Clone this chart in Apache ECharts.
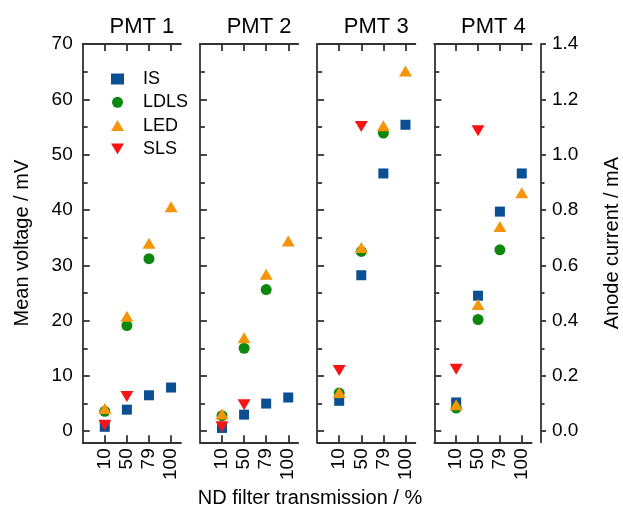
<!DOCTYPE html>
<html>
<head>
<meta charset="utf-8">
<script src="https://cdn.jsdelivr.net/npm/echarts@6/dist/echarts.min.js"></script>
<style>
  html, body { margin: 0; padding: 0; background: #fff; }
  #chart { width: 623px; height: 511px; }
</style>
</head>
<body>
<div id="chart"></div>
<script>
// categories (ND filter transmission, %) and panels
const categories = ['10', '50', '79', '100']
const panels = ['PMT 1', 'PMT 2', 'PMT 3', 'PMT 4']

// mean voltage in mV, one row per PMT, one value per category
const isValues = [
    [0.8, 3.9, 6.5, 7.9],
    [0.6, 3.0, 5.0, 6.1],
    [5.5, 28.2, 46.6, 55.4],
    [5.2, 24.5, 39.7, 46.6]
]
const ldlsValues = [
    [3.6, 19.1, 31.2, null],
    [2.8, 15.0, 25.6, null],
    [6.9, 32.5, 53.9, null],
    [4.2, 20.2, 32.8, null]
]
const ledValues = [
    [4.1, 20.8, 34.0, 40.6],
    [3.1, 16.9, 28.4, 34.4],
    [7.0, 33.2, 55.2, 65.1],
    [4.8, 22.9, 37.0, 43.1]
]
const slsValues = [
    [1.1, 6.3, null, null],
    [0.8, 4.8, null, null],
    [11.0, 55.1, null, null],
    [11.2, 54.3, null, null]
]

// tick values
const mvTicks = [0, 10, 20, 30, 40, 50, 60, 70]
const mvMinorTicks = [5, 15, 25, 35, 45, 55, 65]
const maTicks = [0, 0.2, 0.4, 0.6, 0.8, 1.0, 1.2, 1.4]
const maMinorTicks = [0.1, 0.3, 0.5, 0.7, 0.9, 1.1, 1.3]
const catTicks = [0, 1, 2, 3]

const FONT = 'Liberation Sans'
const TEXT_COLOR = '#000'
const AXIS_COLOR = '#333'
const DOWN_TRIANGLE = 'path://M0,0 L12,0 L6,10 Z'

const seriesDefs = [
    { name: 'IS', values: isValues, symbol: 'rect', size: 10, color: '#0b4f93' },
    { name: 'LDLS', values: ldlsValues, symbol: 'circle', size: 11, color: '#0e870e' },
    { name: 'LED', values: ledValues, symbol: 'triangle', size: [13, 11], color: '#f5960a' },
    { name: 'SLS', values: slsValues, symbol: DOWN_TRIANGLE, size: [13, 11], color: '#f81414' }
]

const GRID_LEFT = 82.7
const GRID_STEP = 117.2
const GRID_W = 98.3
const GRID_TOP = 44
const GRID_H = 398.3

const grid = []
const xAxis = []
const yAxis = []
const series = []
const title = []

const lineStyle = { color: AXIS_COLOR, width: 1.8 }

panels.forEach((p, i) => {
    const left = GRID_LEFT + i * GRID_STEP
    grid.push({ left: left, top: GRID_TOP, width: GRID_W, height: GRID_H })
    title.push({
        text: p,
        left: left + GRID_W / 2 + 5,
        top: 11,
        textAlign: 'center',
        textStyle: { fontFamily: FONT, fontSize: 22, fontWeight: 'normal', color: TEXT_COLOR }
    })
    // bottom axis with rotated labels
    xAxis.push({
        type: 'value', gridIndex: i, position: 'bottom', min: -1, max: 3.45,
        axisLine: { onZero: false, lineStyle: lineStyle },
        axisTick: { inside: true, length: 7, customValues: catTicks, lineStyle: lineStyle },
        axisLabel: {
            customValues: catTicks, formatter: v => categories[v], rotate: 90, margin: 6,
            fontFamily: FONT, fontSize: 19, color: TEXT_COLOR
        },
        splitLine: { show: false }
    })
    // top frame with ticks
    xAxis.push({
        type: 'value', gridIndex: i, position: 'top', min: -1, max: 3.45,
        axisLine: { onZero: false, lineStyle: lineStyle },
        axisTick: { inside: true, length: 7, customValues: catTicks, lineStyle: lineStyle },
        axisLabel: { show: false },
        splitLine: { show: false }
    })
    yAxis.push({
        type: 'value', gridIndex: i, position: 'left', min: -2, max: 70,
        axisLine: { show: true, onZero: false, lineStyle: lineStyle },
        axisTick: { inside: true, length: 7, customValues: mvTicks, lineStyle: lineStyle },
        axisLabel: {
            show: i === 0, customValues: mvTicks, margin: 10,
            fontFamily: FONT, fontSize: 19, color: TEXT_COLOR
        },
        name: i === 0 ? 'Mean voltage / mV' : '',
        nameLocation: 'middle', nameGap: 50,
        nameTextStyle: { fontFamily: FONT, fontSize: 20, color: TEXT_COLOR },
        splitLine: { show: false }
    })
    yAxis.push({
        type: 'value', gridIndex: i, position: 'left', min: -2, max: 70,
        axisLine: { show: false, onZero: false },
        axisTick: { inside: true, length: 5, customValues: mvMinorTicks, lineStyle: lineStyle },
        axisLabel: { show: false },
        splitLine: { show: false }
    })
    seriesDefs.forEach(s => {
        series.push({
            name: s.name,
            type: 'scatter',
            xAxisIndex: 2 * i,
            yAxisIndex: 2 * i,
            symbol: s.symbol,
            symbolSize: s.size,
            itemStyle: { color: s.color, opacity: 1 },
            data: s.values[i].map((v, k) => [k, v]).filter(d => d[1] != null)
        })
    })
})

// anode current axis on the right of PMT 4 (1 mA = 50 mV)
yAxis.push({
    type: 'value', gridIndex: 3, position: 'right', offset: 9.4, min: -0.04, max: 1.4,
    axisLine: { show: true, onZero: false, lineStyle: lineStyle },
    axisTick: { inside: false, length: 5, customValues: maTicks, lineStyle: lineStyle },
    axisLabel: {
        customValues: maTicks, margin: 11, formatter: v => v.toFixed(1),
        fontFamily: FONT, fontSize: 19, color: TEXT_COLOR
    },
    name: 'Anode current / mA', nameLocation: 'middle', nameGap: 61, nameRotate: 90,
    nameTextStyle: { fontFamily: FONT, fontSize: 20, color: TEXT_COLOR },
    splitLine: { show: false }
})
yAxis.push({
    type: 'value', gridIndex: 3, position: 'right', offset: 9.4, min: -0.04, max: 1.4,
    axisLine: { show: false, onZero: false },
    axisTick: { inside: false, length: 3.5, customValues: maMinorTicks, lineStyle: lineStyle },
    axisLabel: { show: false },
    splitLine: { show: false }
})

title.push({
    text: 'ND filter transmission / %',
    left: 305,
    top: 483,
    textAlign: 'center',
    textStyle: { fontFamily: FONT, fontSize: 20, fontWeight: 'normal', color: TEXT_COLOR }
})

const chart = echarts.init(document.getElementById('chart'), null, { renderer: 'canvas' })
chart.setOption({
    animation: false,
    backgroundColor: '#fff',
    title: title,
    legend: {
        data: seriesDefs.map(s => ({ name: s.name, icon: s.symbol })),
        orient: 'vertical',
        left: 106,
        top: 65,
        itemWidth: 13,
        itemHeight: 11,
        itemGap: 5.3,
        selectedMode: false,
        textStyle: { fontFamily: FONT, fontSize: 18, color: TEXT_COLOR, padding: [0, 0, 0, 14] }
    },
    grid: grid,
    xAxis: xAxis,
    yAxis: yAxis,
    series: series
})
</script>
</body>
</html>
